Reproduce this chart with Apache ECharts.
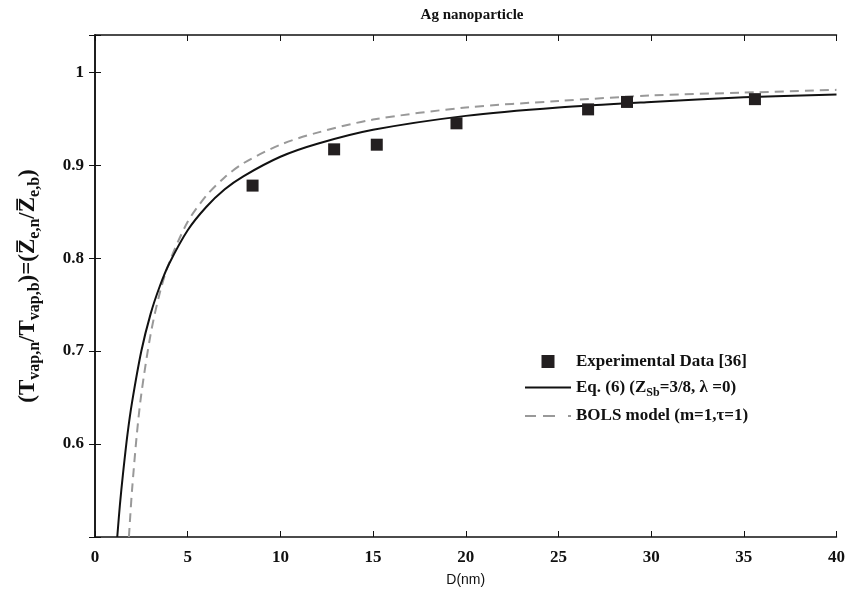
<!DOCTYPE html>
<html>
<head>
<meta charset="utf-8">
<script src="https://cdn.jsdelivr.net/npm/echarts@6/dist/echarts.min.js"></script>
<style>
  html, body { margin: 0; padding: 0; background: #fff; }
  #main { width: 848px; height: 596px; }
</style>
</head>
<body>
<div id="main"></div>
<script>
// experimental points
const expD = [8.5, 12.9, 15.2, 19.5, 26.6, 28.7, 35.6];
const expVal = [0.878, 0.917, 0.922, 0.945, 0.960, 0.968, 0.971];

// Eq. (6) solid curve, sampled from the figure
const eqD = [1.2, 1.35, 1.5, 1.75, 2, 2.5, 3, 3.5, 4, 5, 6, 7, 8, 10, 12, 15, 20, 25, 30, 35, 40];
const eqVal = [0.50, 0.536, 0.566, 0.61, 0.645, 0.70, 0.74, 0.77, 0.794, 0.83, 0.855, 0.874, 0.888, 0.909, 0.923, 0.938, 0.953, 0.962, 0.968, 0.973, 0.976];

// BOLS model dashed curve, sampled from the figure
const bolsD = [1.83, 1.9, 2, 2.25, 2.5, 3, 3.5, 4, 5, 6, 7, 8, 10, 12, 15, 20, 25, 30, 35, 40];
const bolsVal = [0.50, 0.522, 0.551, 0.609, 0.654, 0.718, 0.763, 0.795, 0.839, 0.867, 0.887, 0.902, 0.922, 0.935, 0.949, 0.962, 0.969, 0.975, 0.978, 0.981];

const xTicks = [0, 5, 10, 15, 20, 25, 30, 35, 40];

const pairs = (xs, ys) => xs.map((x, i) => [x, ys[i]]);

const serif = 'Liberation Serif';
const myChart = echarts.init(document.getElementById('main'));

const axisLine = { show: true, lineStyle: { color: '#111', width: 1.5 } };
const tick = { show: true, inside: true, length: 6, lineStyle: { color: '#111', width: 1 } };

const option = {
    backgroundColor: '#fff',
    animation: false,
    title: {
        text: 'Ag nanoparticle',
        left: 467,
        top: 3,
        textAlign: 'center',
        textStyle: { fontFamily: serif, fontWeight: 'bold', fontSize: 15, color: '#111' }
    },
    grid: { left: 95, right: 8, top: 35, bottom: 59 },
    legend: {
        orient: 'vertical',
        left: 520,
        top: 348,
        itemWidth: 46,
        itemHeight: 13,
        itemGap: 9,
        data: [
            { name: 'exp', icon: 'path://M0,0h10v10h-10z' },
            { name: 'eq', icon: 'path://M0,0h46v2h-46z' },
            { name: 'bols', icon: 'path://M0,0h11v2h-11zM18,0h12v2h-12zM43,0h3v2h-3z' }
        ],
        formatter: function (name) {
            if (name === 'exp') return '{b|Experimental Data [36]}';
            if (name === 'eq') return '{b|Eq. (6) (Z}{s|Sb}{b|=3/8, λ =0)}';
            return '{b|BOLS model (m=1,τ=1)}';
        },
        textStyle: {
            rich: {
                b: { fontFamily: serif, fontWeight: 'bold', fontSize: 17, color: '#111' },
                s: { fontFamily: serif, fontWeight: 'bold', fontSize: 12, color: '#111', padding: [10, 0, 0, 0] }
            }
        }
    },
    xAxis: [{
        type: 'value',
        min: 0,
        max: 40,
        interval: 5,
        name: 'D(nm)',
        nameLocation: 'middle',
        nameGap: 36,
        nameTextStyle: { fontFamily: 'Liberation Sans', fontSize: 14, color: '#111' },
        axisLine: axisLine,
        axisTick: tick,
        splitLine: { show: false },
        axisLabel: {
            margin: 12,
            fontFamily: serif, fontWeight: 'bold', fontSize: 17, color: '#111',
            formatter: v => xTicks.includes(v) ? String(v) : ''
        }
    }, {
        type: 'value',
        position: 'top',
        min: 0,
        max: 40,
        interval: 5,
        axisLine: axisLine,
        axisTick: tick,
        axisLabel: { show: false },
        splitLine: { show: false }
    }],
    yAxis: [{
        type: 'value',
        min: 0.5,
        max: 1.04,
        interval: 0.1,
        name: '{b|(T}{s|vap,n}{b|/T}{s|vap,b}{b|)=(Z\u0305}{s|e,n}{b|/Z\u0305}{s|e,b}{b|)}',
        nameLocation: 'middle',
        nameGap: 52,
        nameRotate: 90,
        nameTextStyle: {
            rich: {
                b: { fontFamily: serif, fontWeight: 'bold', fontSize: 23, color: '#111' },
                s: { fontFamily: serif, fontWeight: 'bold', fontSize: 16, color: '#111', padding: [14, 0, 0, 0] }
            }
        },
        axisLine: axisLine,
        axisTick: tick,
        splitLine: { show: false },
        axisLabel: {
            margin: 11,
            fontFamily: serif, fontWeight: 'bold', fontSize: 17, color: '#111',
            formatter: v => (v < 0.55 || v > 1.001) ? '' : String(Math.round(v * 10) / 10)
        }
    }, {
        type: 'value',
        position: 'right',
        min: 0.5,
        max: 1.04,
        interval: 0.1,
        axisLine: axisLine,
        axisTick: tick,
        axisLabel: { show: false },
        splitLine: { show: false }
    }],
    series: [
        {
            name: 'eq',
            type: 'line',
            data: pairs(eqD, eqVal),
            smooth: 0.3,
            showSymbol: false,
            symbol: 'none',
            clip: true,
            lineStyle: { color: '#111', width: 2 },
            itemStyle: { color: '#111' },
            z: 3
        },
        {
            name: 'bols',
            type: 'line',
            data: pairs(bolsD, bolsVal),
            smooth: 0.3,
            showSymbol: false,
            symbol: 'none',
            clip: true,
            lineStyle: { color: '#999', width: 2, type: [9, 6] },
            itemStyle: { color: '#999' },
            z: 2
        },
        {
            name: 'exp',
            type: 'scatter',
            data: pairs(expD, expVal),
            symbol: 'rect',
            symbolSize: 12,
            itemStyle: { color: '#231f20', opacity: 1 },
            z: 4
        }
    ]
};
myChart.setOption(option);
</script>
</body>
</html>
